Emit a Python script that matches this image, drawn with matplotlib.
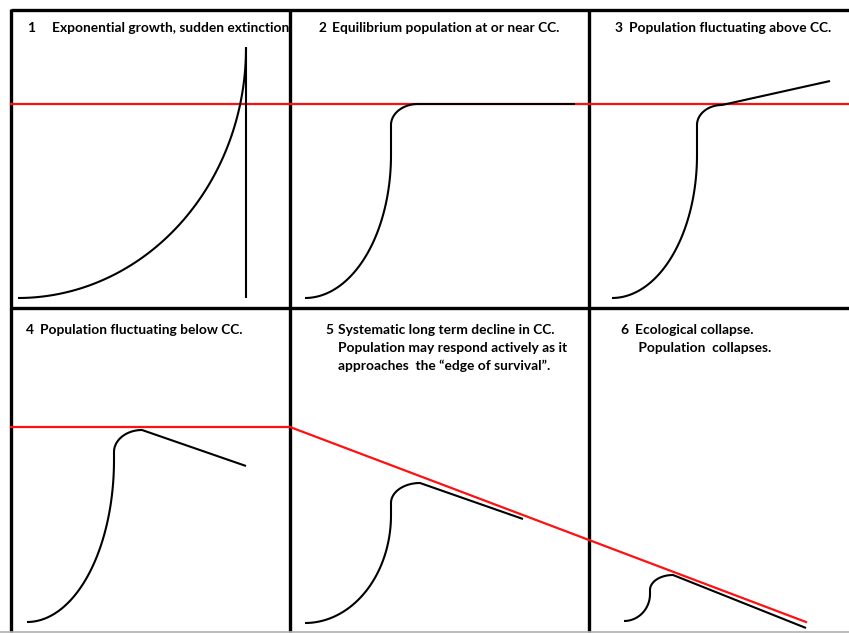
import numpy as np
import matplotlib.pyplot as plt

# Diagram canvas in pixel-like units (y grows downward)
W, H = 849, 633

# Panel grid
col_edges = [11, 290, 589]
row_top, row_mid, row_bottom = 10, 308, 632

# Carrying capacity (CC) lines
cc_top_x = [11, 849]
cc_top_y = [104, 104]
cc_bottom_x = [11, 290, 806]
cc_bottom_y = [427, 427, 622]

# Population trajectories: start, knee (end of steep rise), shoulder height,
# crest (end of rounded top), end of the trailing trend line
populations = {
    2: dict(start=(305, 298), knee=(391, 155), shoulder=125, crest=(418, 104), end=(575, 104)),
    3: dict(start=(612, 298), knee=(697, 155), shoulder=125, crest=(722, 105), end=(830, 81)),
    4: dict(start=(27, 622), knee=(114, 460), shoulder=452, crest=(142, 430), end=(246, 466)),
    5: dict(start=(305, 623), knee=(391, 515), shoulder=503, crest=(420, 483), end=(523, 519)),
    6: dict(start=(624, 621), knee=(650, 594), shoulder=590, crest=(673, 575), end=(806, 628)),
}

# Panel 1: exponential growth then vertical drop
exp_start = (18, 298)
exp_peak = (246, 48)
extinction_x = 246
extinction_y = [47, 298]

# Panel captions: (number, lines, x of number, x of text, y of first line)
captions = [
    ("1", ["Exponential growth, sudden extinction"], 27, 52, 28),
    ("2", ["Equilibrium population at or near CC."], 319, 332, 28),
    ("3", ["Population fluctuating above CC."], 615, 629, 28),
    ("4", ["Population fluctuating below CC."], 26, 40, 330),
    ("5", ["Systematic long term decline in CC.",
           "Population may respond actively as it",
           "approaches  the \u201cedge of survival\u201d."], 325, 338, 330),
    ("6", ["Ecological collapse.", " Population  collapses."], 620, 635, 330),
]


def rise(p0, p1, n=80):
    """Quarter ellipse: flat start at p0, vertical tangent at p1."""
    t = np.linspace(0, np.pi / 2, n)
    x = p0[0] + (p1[0] - p0[0]) * np.sin(t)
    y = p1[1] + (p0[1] - p1[1]) * np.cos(t)
    return x, y


def corner(kx, sy, crest, n=40):
    """Quarter ellipse: vertical tangent at (kx, sy), flat at crest."""
    t = np.linspace(0, np.pi / 2, n)
    x = crest[0] - (crest[0] - kx) * np.cos(t)
    y = sy - (sy - crest[1]) * np.sin(t)
    return x, y


fig = plt.figure(figsize=(W / 100, H / 100), dpi=100)
ax = fig.add_axes([0, 0, 1, 1])
ax.set_xlim(0, W)
ax.set_ylim(H, 0)
ax.axis("off")

# Frame
border = dict(color="black", lw=2.4, solid_capstyle="butt")
ax.plot([col_edges[0], W], [row_top, row_top], **border)
ax.plot([col_edges[0], W], [row_mid, row_mid], **border)
for x in col_edges:
    ax.plot([x, x], [row_top - 1, row_bottom], **border)
ax.plot([0, W], [row_bottom, row_bottom], color="#b0b0b0", lw=1.2)

# Carrying capacity
red = dict(color="#ff1010", lw=1.6)
ax.plot(cc_top_x, cc_top_y, **red)
ax.plot(cc_bottom_x, cc_bottom_y, **red)

curve = dict(color="black", lw=1.5, solid_capstyle="butt", solid_joinstyle="miter")

# Panel 1
x, y = rise(exp_start, exp_peak)
ax.plot(x, y, **curve)
ax.plot([extinction_x, extinction_x], extinction_y, **curve)

# Panels 2-6
for p in populations.values():
    x1, y1 = rise(p["start"], p["knee"])
    x2, y2 = corner(p["knee"][0], p["shoulder"], p["crest"])
    xs = np.concatenate([x1, [p["knee"][0]], x2, [p["end"][0]]])
    ys = np.concatenate([y1, [p["shoulder"]], y2, [p["end"][1]]])
    ax.plot(xs, ys, **curve)

# Captions
font = dict(family="Lato", weight="bold", size=9.9, color="black",
            va="center", ha="left")
for num, lines, xn, xt, y0 in captions:
    ax.text(xn, y0, num, **font)
    for i, line in enumerate(lines):
        ax.text(xt, y0 + 18 * i, line, **font)

fig.savefig("out.png", dpi=100)
